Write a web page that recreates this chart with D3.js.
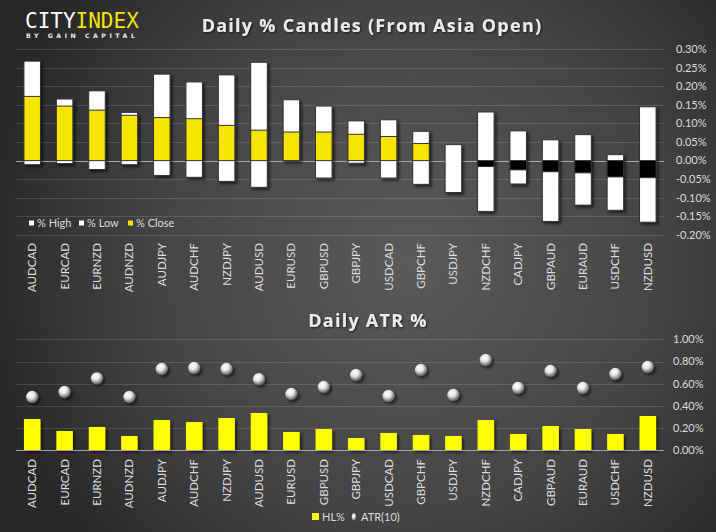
<!DOCTYPE html>
<html>
<head>
<meta charset="utf-8">
<script src="https://cdn.jsdelivr.net/npm/d3@7"></script>
<style>
  html, body { margin: 0; padding: 0; background: #333; }
  svg { display: block; }
</style>
</head>
<body>
<svg id="chart" width="716" height="532"></svg>
<script>
// ---------- DATA ----------
const categories = ["AUDCAD","EURCAD","EURNZD","AUDNZD","AUDJPY","AUDCHF","NZDJPY","AUDUSD","EURUSD","GBPUSD",
                    "GBPJPY","USDCAD","GBPCHF","USDJPY","NZDCHF","CADJPY","GBPAUD","EURAUD","USDCHF","NZDUSD"];
const highPct  = [0.268,0.166,0.188,0.130,0.233,0.212,0.231,0.265,0.164,0.147,0.107,0.110,0.079,0.043,0.131,0.080,0.056,0.070,0.016,0.145];
const lowPct   = [-0.011,-0.008,-0.024,-0.011,-0.040,-0.045,-0.056,-0.072,-0.001,-0.047,-0.007,-0.047,-0.064,-0.086,-0.137,-0.063,-0.164,-0.120,-0.134,-0.166];
const closePct = [0.173,0.147,0.136,0.122,0.116,0.113,0.095,0.082,0.077,0.077,0.071,0.065,0.046,0.000,-0.016,-0.025,-0.030,-0.033,-0.044,-0.046];
const hlPct    = [0.282,0.174,0.210,0.129,0.273,0.255,0.291,0.336,0.165,0.192,0.111,0.156,0.138,0.129,0.273,0.147,0.219,0.192,0.147,0.309];
const atrPct   = [0.480,0.525,0.648,0.480,0.732,0.741,0.732,0.640,0.507,0.570,0.678,0.489,0.723,0.498,0.813,0.561,0.714,0.561,0.687,0.750];
const candleTicks = [-0.20,-0.15,-0.10,-0.05,0.00,0.05,0.10,0.15,0.20,0.25,0.30];
const atrTicks = [0.00,0.20,0.40,0.60,0.80,1.00];
const candleTitle = "Daily % Candles (From Asia Open)";
const atrTitle = "Daily ATR %";

// ---------- SETUP ----------
const svg = d3.select("#chart");
const W = 716, H = 532;
const defs = svg.append("defs");

const bg = defs.append("radialGradient").attr("id","bg")
  .attr("gradientUnits","userSpaceOnUse").attr("cx",410).attr("cy",260).attr("r",430);
bg.append("stop").attr("offset","0%").attr("stop-color","#5a5a5a");
bg.append("stop").attr("offset","60%").attr("stop-color","#444444");
bg.append("stop").attr("offset","100%").attr("stop-color","#282828");

const shadow = defs.append("filter").attr("id","shadow")
  .attr("x","-30%").attr("y","-10%").attr("width","170%").attr("height","130%");
shadow.append("feDropShadow").attr("dx",2).attr("dy",2).attr("stdDeviation",1.6)
  .attr("flood-color","#000").attr("flood-opacity",0.6);

const tshadow = defs.append("filter").attr("id","tshadow")
  .attr("x","-10%").attr("y","-30%").attr("width","120%").attr("height","160%");
tshadow.append("feDropShadow").attr("dx",1).attr("dy",1).attr("stdDeviation",0.8)
  .attr("flood-color","#000").attr("flood-opacity",0.7);

const sphere = defs.append("radialGradient").attr("id","sphere")
  .attr("cx","40%").attr("cy","35%").attr("r","65%").attr("fx","38%").attr("fy","30%");
sphere.append("stop").attr("offset","0%").attr("stop-color","#ffffff");
sphere.append("stop").attr("offset","45%").attr("stop-color","#e6e6e6");
sphere.append("stop").attr("offset","80%").attr("stop-color","#8a8a8a");
sphere.append("stop").attr("offset","100%").attr("stop-color","#555555");

svg.append("rect").attr("width",W).attr("height",H).attr("fill","url(#bg)");

const labelFont = "Lato, 'Open Sans', sans-serif";
const x = d3.scaleBand().domain(categories).range([16, 664]).paddingInner(0.49).paddingOuter(0.245);

// ---------- LOGO ----------
const logo = svg.append("text").attr("x",25).attr("y",28)
  .attr("font-family","'DejaVu Sans Mono', monospace").attr("font-size",21);
logo.append("tspan").attr("fill","#ffffff").text("CITY");
logo.append("tspan").attr("fill","#f5e400").text("INDEX");
svg.append("text").attr("x",26).attr("y",38).attr("font-family","'DejaVu Sans', sans-serif")
  .attr("font-size",6.2).attr("font-weight","bold").attr("letter-spacing",3.55)
  .attr("fill","#e8e8e8").text("BY GAIN CAPITAL");

// ---------- TOP CHART ----------
const y1 = d3.scaleLinear().domain([-0.2, 0.3]).range([234.8, 49.3]);

svg.append("text").attr("x",372).attr("y",32).attr("text-anchor","middle")
  .attr("font-family","'Open Sans', sans-serif").attr("font-weight","bold").attr("font-size",18)
  .attr("letter-spacing",1.25).attr("fill","#ececec").attr("filter","url(#tshadow)").text(candleTitle);

const g1 = svg.append("g");
g1.selectAll("line.grid").data(candleTicks.filter(d => d !== 0)).join("line")
  .attr("x1",16).attr("x2",664).attr("y1",d => Math.round(y1(d))+0.5).attr("y2",d => Math.round(y1(d))+0.5)
  .attr("stroke","#ffffff").attr("stroke-opacity",0.13);
g1.append("line").attr("x1",16).attr("x2",664).attr("y1",Math.round(y1(0))+0.5).attr("y2",Math.round(y1(0))+0.5)
  .attr("stroke","#a8a8a8").attr("stroke-width",1);

g1.selectAll("text.ytick").data(candleTicks).join("text")
  .attr("x",676).attr("y",d => y1(d)).attr("dy","0.35em")
  .attr("font-family",labelFont).attr("font-size",11).attr("fill","#dcdcdc")
  .text(d => d.toFixed(2) + "%");

const cands = categories.map((c,i) => ({c, hi: highPct[i], lo: lowPct[i], cl: closePct[i]}));
const cg = g1.append("g").attr("filter","url(#shadow)");
cg.selectAll("rect.hl").data(cands).join("rect")
  .attr("x",d => x(d.c)).attr("width",x.bandwidth())
  .attr("y",d => y1(d.hi)).attr("height",d => y1(d.lo) - y1(d.hi))
  .attr("fill","#ffffff").attr("stroke","#333").attr("stroke-width",1);
cg.selectAll("rect.cl").data(cands.filter(d => d.cl !== 0)).join("rect")
  .attr("x",d => x(d.c)).attr("width",x.bandwidth())
  .attr("y",d => y1(Math.max(0,d.cl))).attr("height",d => Math.abs(y1(d.cl) - y1(0)))
  .attr("fill",d => d.cl > 0 ? "#f5e500" : "#000000").attr("stroke","#333").attr("stroke-width",1);

// x labels
g1.selectAll("text.xl").data(categories).join("text")
  .attr("transform",d => `translate(${x(d) + x.bandwidth()/2 + 4},243) rotate(-90)`)
  .attr("text-anchor","end").attr("font-family",labelFont).attr("font-size",11.5).attr("fill","#dcdcdc")
  .text(d => d);

// legend
const leg1 = [{t:"% High", c:"#ffffff", x:29},{t:"% Low", c:"#ffffff", x:79},{t:"% Close", c:"#f5e500", x:128}];
const lg = g1.selectAll("g.leg").data(leg1).join("g");
lg.append("rect").attr("x",d => d.x).attr("y",220.5).attr("width",5).attr("height",5).attr("fill",d => d.c);
lg.append("text").attr("x",d => d.x + 8).attr("y",226.5).attr("font-family",labelFont).attr("font-size",11)
  .attr("fill","#dcdcdc").text(d => d.t);

// ---------- BOTTOM CHART ----------
const y2 = d3.scaleLinear().domain([0, 1]).range([450.3, 339.3]);

svg.append("text").attr("x",368).attr("y",326.5).attr("text-anchor","middle")
  .attr("font-family","'Open Sans', sans-serif").attr("font-weight","bold").attr("font-size",18)
  .attr("letter-spacing",1.25).attr("fill","#ececec").attr("filter","url(#tshadow)").text(atrTitle);

const g2 = svg.append("g");
g2.selectAll("line.grid").data(atrTicks.filter(d => d !== 0)).join("line")
  .attr("x1",16).attr("x2",664).attr("y1",d => Math.round(y2(d))+0.5).attr("y2",d => Math.round(y2(d))+0.5)
  .attr("stroke","#ffffff").attr("stroke-opacity",0.13);

g2.selectAll("text.ytick").data(atrTicks).join("text")
  .attr("x",673).attr("y",d => y2(d)).attr("dy","0.35em")
  .attr("font-family",labelFont).attr("font-size",11).attr("fill","#dcdcdc")
  .text(d => d.toFixed(2) + "%");

const atrData = categories.map((c,i) => ({c, hl: hlPct[i], atr: atrPct[i]}));
g2.append("g").attr("filter","url(#shadow)").selectAll("rect").data(atrData).join("rect")
  .attr("x",d => x(d.c)).attr("width",x.bandwidth())
  .attr("y",d => y2(d.hl)).attr("height",d => y2(0) - y2(d.hl))
  .attr("fill","#ffff00");
g2.append("line").attr("x1",16).attr("x2",664).attr("y1",Math.round(y2(0))+0.5).attr("y2",Math.round(y2(0))+0.5)
  .attr("stroke","#a0a0a0");

g2.append("g").attr("filter","url(#shadow)").selectAll("circle").data(atrData).join("circle")
  .attr("cx",d => x(d.c) + x.bandwidth()/2).attr("cy",d => y2(d.atr)).attr("r",6.2)
  .attr("fill","url(#sphere)");

g2.selectAll("text.xl").data(categories).join("text")
  .attr("transform",d => `translate(${x(d) + x.bandwidth()/2 + 4},459) rotate(-90)`)
  .attr("text-anchor","end").attr("font-family",labelFont).attr("font-size",11.5).attr("fill","#dcdcdc")
  .text(d => d);

// legend
g2.append("rect").attr("x",312).attr("y",513).attr("width",7).attr("height",7).attr("fill","#ffff00");
g2.append("text").attr("x",322).attr("y",520.5).attr("font-family",labelFont).attr("font-size",11)
  .attr("fill","#dcdcdc").text("HL%");
g2.append("ellipse").attr("cx",354).attr("cy",517).attr("rx",2.3).attr("ry",3.8).attr("fill","url(#sphere)");
g2.append("text").attr("x",361).attr("y",520.5).attr("font-family",labelFont).attr("font-size",11)
  .attr("fill","#dcdcdc").text("ATR(10)");
</script>
</body>
</html>
